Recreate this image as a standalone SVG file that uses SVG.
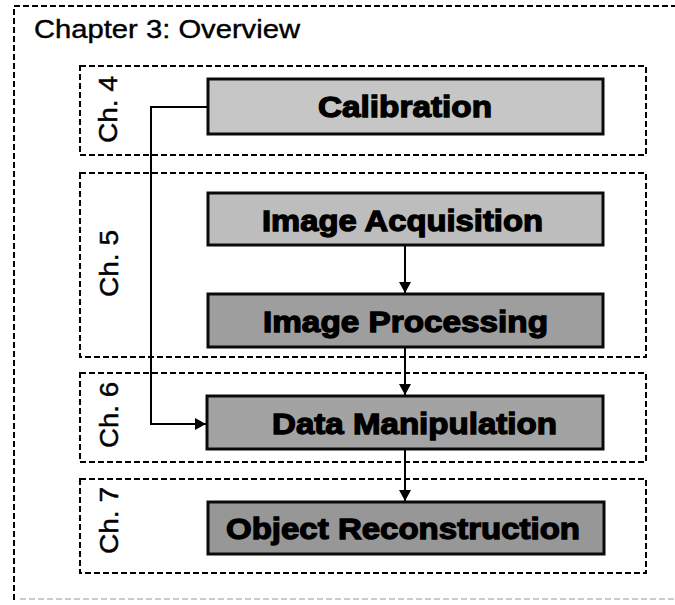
<svg xmlns="http://www.w3.org/2000/svg" width="675" height="605" viewBox="0 0 675 605">
<defs>
<style>
.outer{fill:none;stroke:#000;stroke-width:2;stroke-dasharray:6 3}
.chap{fill:none;stroke:#000;stroke-width:2;stroke-dasharray:6 3}
.node{stroke:#0a0a0a;stroke-width:3}
.lbl{font-family:"Liberation Sans",Arial,sans-serif;font-weight:bold;font-size:30px;fill:#000;stroke:#000;stroke-width:1.3;text-anchor:start}
.ch{font-family:"Liberation Sans",Arial,sans-serif;font-size:26px;fill:#000;stroke:#000;stroke-width:0.5}
.title{font-family:"Liberation Sans",Arial,sans-serif;font-size:26px;fill:#000;stroke:#000;stroke-width:0.4}
.conn{fill:none;stroke:#000;stroke-width:2}
</style>
<marker id="arr" markerUnits="userSpaceOnUse" markerWidth="14" markerHeight="14" refX="11" refY="6" orient="auto">
<path d="M0,0 L11,6 L0,12 z" fill="#000"/>
</marker>
</defs>
<rect x="0" y="0" width="675" height="605" fill="#fff"/>
<g id="frame">
<path class="outer" d="M14,600 L14,6 L680,6"/>
<path d="M20,599 L675,599" fill="none" stroke="#bbb" stroke-width="1.5" stroke-dasharray="6 3"/>
<text class="title" x="34" y="38" textLength="266" lengthAdjust="spacingAndGlyphs">Chapter 3: Overview</text>
</g>
<g id="ch4">
<rect class="chap" x="80" y="66" width="566" height="89"/>
<text class="ch" transform="translate(117,143) rotate(-90)" textLength="67" lengthAdjust="spacingAndGlyphs">Ch. 4</text>
</g>
<g id="ch5">
<rect class="chap" x="80" y="173" width="566" height="184"/>
<text class="ch" transform="translate(118,297) rotate(-90)" textLength="67" lengthAdjust="spacingAndGlyphs">Ch. 5</text>
</g>
<g id="ch6">
<rect class="chap" x="80" y="373" width="566" height="89"/>
<text class="ch" transform="translate(118,448) rotate(-90)" textLength="66" lengthAdjust="spacingAndGlyphs">Ch. 6</text>
</g>
<g id="ch7">
<rect class="chap" x="80" y="479" width="566" height="94"/>
<text class="ch" transform="translate(118,554) rotate(-90)" textLength="67" lengthAdjust="spacingAndGlyphs">Ch. 7</text>
</g>
<g id="connectors">
<path class="conn" d="M208,107 L151,107 L151,424 L206,424" marker-end="url(#arr)"/>
<path class="conn" d="M405,246 L405,293" marker-end="url(#arr)"/>
<path class="conn" d="M405,348 L405,395" marker-end="url(#arr)"/>
<path class="conn" d="M405,450 L405,501" marker-end="url(#arr)"/>
</g>
<g id="calibration">
<rect class="node" x="208" y="79" width="395" height="55" fill="#c6c6c6"/>
<text class="lbl" x="318" y="117" textLength="174" lengthAdjust="spacingAndGlyphs">Calibration</text>
</g>
<g id="image-acquisition">
<rect class="node" x="208" y="193" width="395" height="52" fill="#bdbdbd"/>
<text class="lbl" x="262" y="231" textLength="281" lengthAdjust="spacingAndGlyphs">Image Acquisition</text>
</g>
<g id="image-processing">
<rect class="node" x="208" y="294" width="395" height="53" fill="#9e9e9e"/>
<text class="lbl" x="263" y="332" textLength="285" lengthAdjust="spacingAndGlyphs">Image Processing</text>
</g>
<g id="data-manipulation">
<rect class="node" x="207" y="396" width="396" height="53" fill="#a3a3a3"/>
<text class="lbl" x="272" y="434" textLength="285" lengthAdjust="spacingAndGlyphs">Data Manipulation</text>
</g>
<g id="object-reconstruction">
<rect class="node" x="208" y="502" width="396" height="52" fill="#979797"/>
<text class="lbl" x="226" y="539" textLength="354" lengthAdjust="spacingAndGlyphs">Object Reconstruction</text>
</g>
</svg>
